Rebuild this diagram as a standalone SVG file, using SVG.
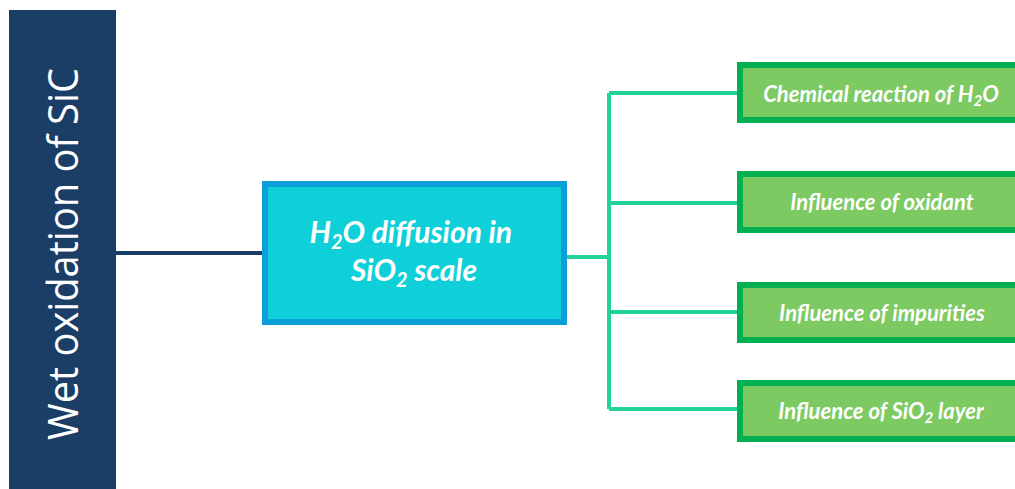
<svg xmlns="http://www.w3.org/2000/svg" width="1015" height="489" viewBox="0 0 1015 489">
<style>
.conn{fill:none;stroke-width:4}
.leaf rect{fill:#7dc962;stroke:#00b050;stroke-width:6}
.leaf text{font-family:Lato,"Open Sans",sans-serif;font-weight:bold;font-style:italic;font-size:22px;fill:#fff;text-anchor:middle}
.sub{font-size:15px}
</style>
<rect width="1015" height="489" fill="#fff"/>
<g id="connectors">
  <path class="conn" d="M116 253H263" stroke="#1a3e66" stroke-width="3"/>
  <path class="conn" d="M567 257H609M609 93V409M609 93H740M609 203H740M609 312H740M609 409H740" stroke="#1fd39a"/>
</g>
<g id="root">
  <rect x="9" y="10" width="107" height="479" fill="#1a3e66"/>
  <text transform="translate(78,254) rotate(-90)" font-family="'Open Sans',sans-serif" font-size="42" fill="#fff" text-anchor="middle" textLength="372" lengthAdjust="spacingAndGlyphs">Wet oxidation of SiC</text>
</g>
<g id="center">
  <rect x="265" y="184" width="299" height="138" fill="#0fd0d8" stroke="#0a9fd8" stroke-width="6"/>
  <text font-family="Lato,'Open Sans',sans-serif" font-weight="bold" font-style="italic" font-size="30" fill="#fff" text-anchor="middle">
    <tspan x="414" y="243">H<tspan font-size="20" dy="6">2</tspan><tspan dy="-6">O diffusion  in</tspan></tspan>
    <tspan x="414" y="281">SiO<tspan font-size="20" dy="6">2</tspan><tspan dy="-6"> scale</tspan></tspan>
  </text>
</g>
<g id="leaf1" class="leaf">
  <rect x="740" y="65" width="290" height="55"/>
  <text x="881" y="102">Chemical reaction of H<tspan class="sub" dy="4">2</tspan><tspan dy="-4">O</tspan></text>
</g>
<g id="leaf2" class="leaf">
  <rect x="740" y="174" width="290" height="56"/>
  <text x="882" y="210">Influence of oxidant</text>
</g>
<g id="leaf3" class="leaf">
  <rect x="740" y="285" width="290" height="55"/>
  <text x="882" y="321">Influence of impurities</text>
</g>
<g id="leaf4" class="leaf">
  <rect x="740" y="383" width="290" height="56"/>
  <text x="881" y="419">Influence of SiO<tspan class="sub" dy="4">2</tspan><tspan dy="-4"> layer</tspan></text>
</g>
</svg>
